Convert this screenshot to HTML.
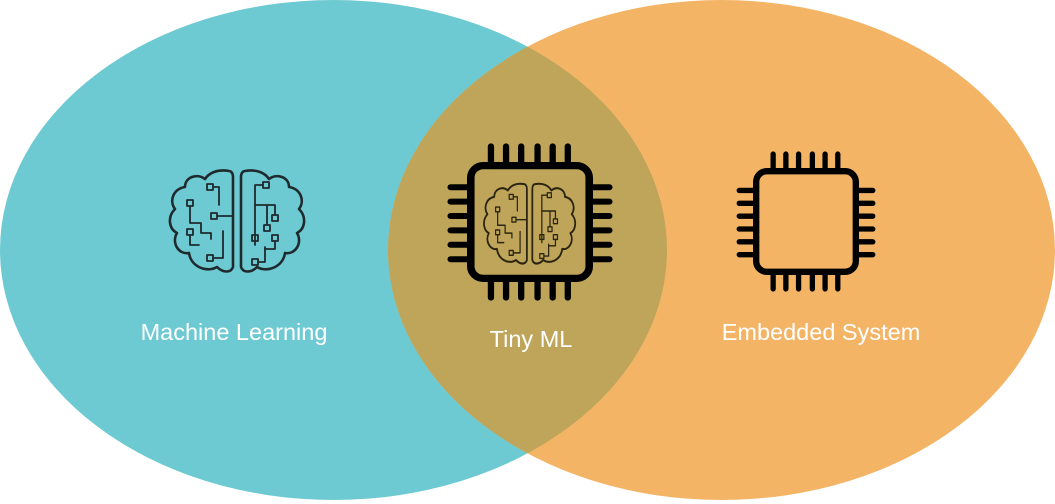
<!DOCTYPE html>
<html><head><meta charset="utf-8"><style>
html,body{margin:0;padding:0;background:#fff}
svg{display:block}
text{font-family:"Liberation Sans",sans-serif;fill:#fff}
</style></head><body>
<svg width="1055" height="504" viewBox="0 0 1055 504" xmlns="http://www.w3.org/2000/svg">
<defs>
<g id="brain" fill="none" stroke-linecap="round" stroke-linejoin="round">
  <path d="M62,4 C50,2 42,6 38,12 C30,6 18,10 18,20 C6,22 2,34 8,42 C0,50 2,62 10,66 C4,76 12,88 22,86 C24,100 40,106 50,100 C56,106 64,106 66,100 L66,10 C66,6 64,4 62,4 Z" stroke-width="2.6"/>
  <path d="M78,4 C90,2 98,6 102,12 C110,6 122,10 122,20 C134,22 138,34 132,42 C140,50 138,62 130,66 C136,76 128,88 118,86 C116,100 100,106 90,100 C84,106 76,106 74,100 L74,10 C74,6 76,4 78,4 Z" stroke-width="2.6"/>
  <g stroke-width="1.8">
    <rect x="40" y="17" width="6" height="6"/><path d="M46,20 H52 V38"/>
    <rect x="20" y="33" width="6" height="6"/><path d="M23,39 V56 H34 V66 H44 V72"/>
    <rect x="44" y="46" width="6" height="6"/><path d="M50,49 H66"/>
    <rect x="20" y="62" width="6" height="6"/><path d="M23,68 V78 H32"/>
    <rect x="40" y="88" width="6" height="6"/><path d="M46,91 H56 V64"/>
    <rect x="96" y="15" width="6" height="6"/><path d="M96,18 H88 V78"/>
    <path d="M88,38 H108 V48 M100,38 V58"/>
    <rect x="105" y="48" width="6" height="6"/><rect x="97" y="58" width="6" height="6"/>
    <rect x="85" y="68" width="6" height="6"/>
    <rect x="105" y="68" width="6" height="6"/><path d="M108,74 V82 H98"/>
    <rect x="85" y="92" width="6" height="6"/><path d="M91,95 H98 V80"/>
  </g>
</g>
<g id="chip" fill="none" stroke="#000" stroke-linecap="round">
  <rect x="3" y="3" width="94" height="94" rx="10" stroke-width="6"/>
  <g stroke-width="5">
    <path d="M19,-13 V0 M31,-13 V0 M43,-13 V0 M56,-13 V0 M68,-13 V0 M80,-13 V0"/>
    <path d="M19,100 V113 M31,100 V113 M43,100 V113 M56,100 V113 M68,100 V113 M80,100 V113"/>
    <path d="M-13,21 H0 M-13,33 H0 M-13,45 H0 M-13,57 H0 M-13,69 H0 M-13,81 H0"/>
    <path d="M100,21 H113 M100,33 H113 M100,45 H113 M100,57 H113 M100,69 H113 M100,81 H113"/>
  </g>
</g>
<clipPath id="cl"><ellipse cx="333.5" cy="250" rx="333.5" ry="250"/></clipPath>
</defs>
<ellipse cx="333.5" cy="250" rx="333.5" ry="250" fill="#6ECAD2"/>
<ellipse cx="721.5" cy="250" rx="333.5" ry="250" fill="#F4B466"/>
<ellipse cx="721.5" cy="250" rx="333.5" ry="250" fill="#BEA55A" clip-path="url(#cl)"/>

<g transform="translate(167,167)" stroke="#1f2a2e"><use href="#brain"/></g>
<g transform="translate(467,162) scale(1.26,1.2)"><use href="#chip"/></g>
<g transform="translate(482,181) scale(0.68,0.79)" stroke="#2a2410"><use href="#brain"/></g>
<g transform="translate(753,168) scale(1.06,1.07)"><use href="#chip"/></g>

<text x="234" y="340" font-size="23.5" text-anchor="middle">Machine Learning</text>
<text x="531" y="347" font-size="23.5" text-anchor="middle">Tiny ML</text>
<text x="821" y="340" font-size="23.5" text-anchor="middle">Embedded System</text>
</svg>
</body></html>
